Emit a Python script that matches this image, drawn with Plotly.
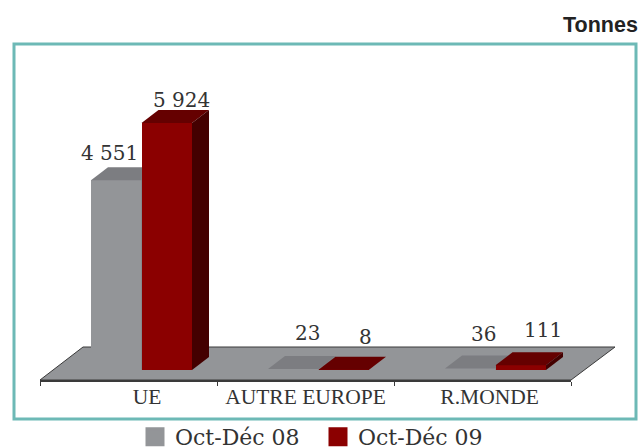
import plotly.graph_objects as go

# ---------- data ----------
categories = ["UE", "AUTRE EUROPE", "R.MONDE"]
series_names = ["Oct-Déc 08", "Oct-Déc 09"]
values_08 = [4551, 23, 36]
values_09 = [5924, 8, 111]
labels_08 = ["4 551", "23", "36"]
labels_09 = ["5 924", "8", "111"]
unit = "Tonnes"

# ---------- geometry of the pseudo-3D view ----------
W, H = 639, 447
PLOT_L, PLOT_R = 40, 571      # front edge of the floor
FLOOR_FRONT, FLOOR_BACK = 380, 347
BASE_Y = 370                  # pixel row of value 0
CAT_PX = (PLOT_R - PLOT_L) / 3
PX_PER_T = 247 / 5924
DEPTH_X = 17 / CAT_PX         # depth offset in axis units
DEPTH_Y = 13 / PX_PER_T
BAR_W = 50.5 / CAT_PX
GREY_START = 51 / CAT_PX
Y_RANGE = [-(FLOOR_FRONT - BASE_Y) / PX_PER_T, BASE_Y / PX_PER_T]
X_RANGE = [0, 3]

GREY, GREY_TOP = "#939598", "#7c7d81"
RED, RED_TOP, RED_SIDE = "#8b0000", "#650000", "#440000"
TEXT = "#333333"
SERIF = "DejaVu Serif"


def px(x):
    return (x - PLOT_L) / (PLOT_R - PLOT_L)


def py(y):
    return (FLOOR_FRONT - y) / FLOOR_FRONT


def poly(xs, ys, color, xa, ya):
    return go.Scatter(x=xs, y=ys, mode="lines", fill="toself", fillcolor=color,
                      line=dict(width=0, color=color), hoverinfo="skip",
                      showlegend=False, cliponaxis=False, xaxis=xa, yaxis=ya)


def bars_3d(values, start, front, top, side, xa, ya):
    centers = [i + start + BAR_W / 2 for i in range(len(values))]
    out = [go.Bar(x=centers, y=values, width=BAR_W, marker=dict(color=front, line=dict(width=0)),
                  showlegend=False, xaxis=xa, yaxis=ya, cliponaxis=False)]
    for c, v in zip(centers, values):
        l, r = c - BAR_W / 2, c + BAR_W / 2
        out.append(poly([l, r, r + DEPTH_X, l + DEPTH_X, l],
                        [v, v, v + DEPTH_Y, v + DEPTH_Y, v], top, xa, ya))
        out.append(poly([r, r + DEPTH_X, r + DEPTH_X, r, r],
                        [0, DEPTH_Y, v + DEPTH_Y, v, 0], side, xa, ya))
    return out


fig = go.Figure()
for t in bars_3d(values_08, GREY_START, GREY, GREY_TOP, GREY_TOP, "x", "y"):
    fig.add_trace(t)
for t in bars_3d(values_09, GREY_START + BAR_W, RED, RED_TOP, RED_SIDE, "x2", "y2"):
    fig.add_trace(t)

# legend entries
for name, col in zip(series_names, [GREY, RED]):
    fig.add_trace(go.Scatter(x=[None], y=[None], mode="markers", name=name,
                             marker=dict(symbol="square", size=16, color=col,
                                         line=dict(width=3, color=col))))

# data labels (hand-placed in the original, hence pixel shifts)
shifts_08 = [(-7, 27), (14, 36), (13, 35)]
shifts_09 = [(15, 23), (22, 33), (22, 35)]
annos = []
for i, (v, lab, s) in enumerate(zip(values_08, labels_08, shifts_08)):
    annos.append(dict(x=i + GREY_START + BAR_W / 2, y=v, text=lab, xref="x", yref="y",
                      showarrow=False, xshift=s[0], yshift=s[1],
                      font=dict(family=SERIF, size=20, color=TEXT)))
for i, (v, lab, s) in enumerate(zip(values_09, labels_09, shifts_09)):
    annos.append(dict(x=i + GREY_START + BAR_W * 1.5, y=v, text=lab, xref="x", yref="y",
                      showarrow=False, xshift=s[0], yshift=s[1],
                      font=dict(family=SERIF, size=20, color=TEXT)))
annos.append(dict(x=px(640), y=py(25), xref="paper", yref="paper", text="<b>" + unit + "</b>",
                  xanchor="right", yanchor="middle", showarrow=False,
                  font=dict(family="Liberation Sans", size=21.5, color="#222222")))

shapes = [
    dict(type="rect", xref="paper", yref="paper", x0=px(14), x1=px(636), y0=py(44), y1=py(419),
         line=dict(color="#6db9b6", width=3), layer="below"),
    dict(type="path", xref="paper", yref="paper", layer="below", fillcolor=GREY,
         line=dict(color="#3a3a3a", width=1),
         path=f"M{px(PLOT_L)},{py(FLOOR_FRONT)} L{px(83)},{py(FLOOR_BACK)} "
              f"L{px(615)},{py(FLOOR_BACK)} L{px(PLOT_R)},{py(FLOOR_FRONT)} Z"),
]

axis_hidden = dict(visible=False, fixedrange=True)
fig.update_layout(
    width=W, height=H, autosize=False,
    margin=dict(l=PLOT_L, r=W - PLOT_R, t=0, b=H - FLOOR_FRONT, pad=0),
    paper_bgcolor="white", plot_bgcolor="rgba(0,0,0,0)",
    barmode="overlay", bargap=0,
    annotations=annos, shapes=shapes,
    xaxis=dict(range=X_RANGE, showgrid=False, zeroline=False, showline=True,
               linecolor="#3a3a3a", linewidth=1.5,
               tickmode="array", tickvals=[0.605, 1.5, 2.54], ticktext=categories,
               ticks="", ticklabelstandoff=-4,
               tickfont=dict(family="Liberation Serif", size=21.5, color=TEXT),
               minor=dict(tickmode="array", tickvals=[0, 1, 2, 3], ticks="outside", ticklen=4,
                          tickcolor="#3a3a3a", tickwidth=1, showgrid=False)),
    yaxis=dict(range=Y_RANGE, **axis_hidden),
    xaxis2=dict(range=X_RANGE, overlaying="x", anchor="y2", **axis_hidden),
    yaxis2=dict(range=Y_RANGE, overlaying="y", anchor="x2", **axis_hidden),
    legend=dict(orientation="h", xref="container", yref="container",
                x=135 / W, y=1 - 416 / H, xanchor="left", yanchor="top",
                font=dict(family=SERIF, size=22, color=TEXT), bgcolor="rgba(0,0,0,0)",
                itemsizing="trace", entrywidth=138, entrywidthmode="pixels",
                traceorder="normal"),
)
fig.write_html("out.html", config={"displayModeBar": False},
               post_script="document.body.style.margin='0';document.body.style.overflow='hidden';")
